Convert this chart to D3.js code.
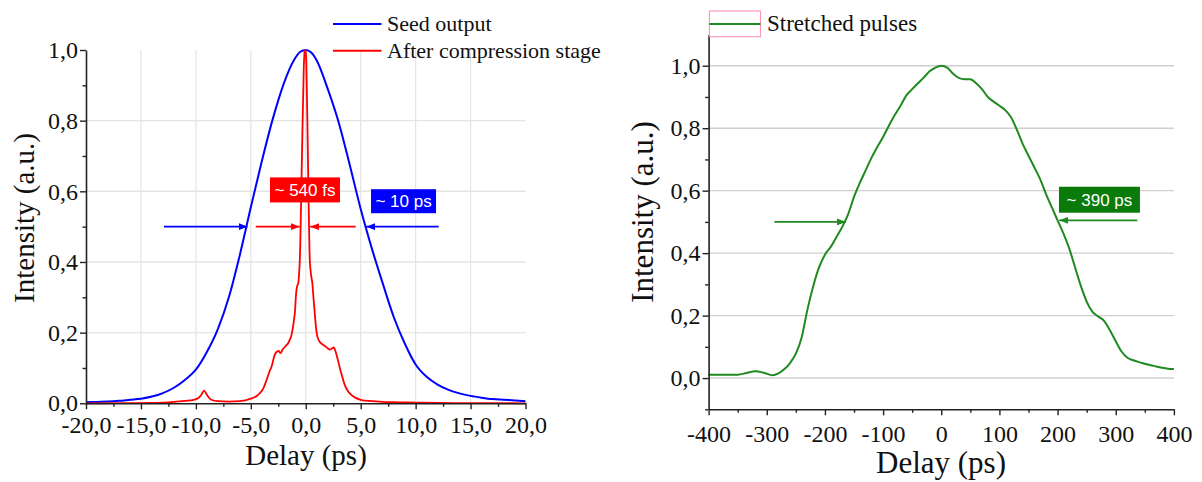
<!DOCTYPE html>
<html><head><meta charset="utf-8">
<script src="https://cdn.jsdelivr.net/npm/d3@7"></script>
<style>
body{margin:0;background:#fff}
svg text{font-family:"Liberation Serif","Times New Roman",serif;fill:#111}
</style>
</head><body><svg id="c" width="1202" height="482"></svg>
<script>
// ---------- data ----------
const seedX = [-20,-19,-18,-17,-16,-15,-14,-13,-12,-11,-10,-9,-8,-7,-6,-5,-4,-3,-2,-1,-0.5,0,0.5,1,2,3,4,5,6,7,8,9,10,11,12,13,14,15,16,17,18,19,20];
const seedY = [0.003,0.004,0.005,0.007,0.01,0.013,0.019,0.029,0.044,0.066,0.095,0.145,0.21,0.30,0.42,0.555,0.685,0.805,0.905,0.975,0.995,1.0,0.993,0.97,0.89,0.795,0.675,0.55,0.44,0.34,0.245,0.17,0.11,0.075,0.053,0.038,0.028,0.021,0.016,0.012,0.01,0.008,0.006];

const compX = [-20,-16,-14,-13,-12,-11,-10.2,-9.8,-9.5,-9.25,-9.0,-8.6,-8,-7,-6,-5,-4.5,-4.2,-3.9,-3.6,-3.3,-3.1,-2.85,-2.6,-2.45,-2.3,-2.1,-1.8,-1.6,-1.45,-1.3,-1.1,-0.98,-0.88,-0.8,-0.68,-0.6,-0.54,-0.35,-0.18,-0.1,-0.02,0.05,0.2,0.37,0.5,0.6,0.7,0.82,0.95,1.05,1.27,1.5,1.75,2.0,2.2,2.4,2.55,2.7,2.85,3.0,3.15,3.35,3.55,3.8,4.0,4.5,5,6,7,8,10,12,15,20];
const compY = [0.0,0.0005,0.001,0.002,0.004,0.007,0.01,0.014,0.024,0.036,0.024,0.01,0.006,0.005,0.006,0.013,0.02,0.028,0.04,0.063,0.09,0.105,0.135,0.147,0.148,0.142,0.152,0.163,0.17,0.18,0.193,0.23,0.26,0.31,0.33,0.34,0.37,0.405,0.69,0.95,0.995,1.0,0.97,0.69,0.405,0.36,0.34,0.30,0.255,0.21,0.19,0.174,0.167,0.162,0.156,0.152,0.156,0.158,0.148,0.132,0.113,0.094,0.072,0.052,0.036,0.028,0.016,0.01,0.006,0.004,0.003,0.002,0.001,0.0005,0.0];

const stretchX = [-400,-375,-350,-335,-320,-305,-290,-280,-270,-260,-250,-240,-230,-220,-210,-200,-190,-180,-170,-160,-150,-140,-130,-120,-110,-100,-90,-80,-70,-60,-50,-40,-30,-20,-10,0,10,20,30,40,50,60,70,80,90,100,110,120,130,140,150,160,170,180,190,200,210,220,230,240,250,260,270,280,290,300,310,320,330,340,350,360,370,380,390,400];
const stretchY = [0.011,0.011,0.011,0.016,0.022,0.017,0.009,0.015,0.028,0.048,0.078,0.13,0.22,0.295,0.355,0.395,0.42,0.452,0.485,0.525,0.58,0.625,0.665,0.705,0.74,0.772,0.808,0.842,0.872,0.905,0.925,0.944,0.962,0.982,0.994,1.0,0.994,0.975,0.961,0.957,0.957,0.944,0.925,0.90,0.885,0.872,0.858,0.835,0.795,0.75,0.712,0.675,0.637,0.59,0.547,0.505,0.463,0.415,0.355,0.295,0.245,0.212,0.197,0.183,0.153,0.118,0.085,0.065,0.057,0.051,0.046,0.041,0.037,0.033,0.030,0.029];

const leftXTicks = [-20,-15,-10,-5,0,5,10,15,20];
const leftXTickLabels = ["-20,0","-15,0","-10,0","-5,0","0,0","5,0","10,0","15,0","20,0"];
const leftXMinor = [-17.5,-12.5,-7.5,-2.5,2.5,7.5,12.5,17.5];
const leftYTicks = [0,0.2,0.4,0.6,0.8,1.0];
const leftYTickLabels = ["0,0","0,2","0,4","0,6","0,8","1,0"];
const leftYMinor = [0.1,0.3,0.5,0.7,0.9];
const leftXGrid = [-15,-10,-5,0,5,10,15];
const leftYGrid = [0.2,0.4,0.6,0.8];

const rightXTicks = [-400,-300,-200,-100,0,100,200,300,400];
const rightXTickLabels = ["-400","-300","-200","-100","0","100","200","300","400"];
const rightXMinor = [-350,-250,-150,-50,50,150,250,350];
const rightYTicks = [0,0.2,0.4,0.6,0.8,1.0];
const rightYTickLabels = ["0,0","0,2","0,4","0,6","0,8","1,0"];
const rightYMinor = [-0.1,0.1,0.3,0.5,0.7,0.9];
const rightYGrid = [0,0.2,0.4,0.6,0.8,1.0];

// annotation arrows [x1,x2,y] (arrow at x2)
const leftArrows = [
  {x1:-12.9,x2:-5.3,y:0.5,c:"blue"},
  {x1:12.1,x2:5.5,y:0.5,c:"blue"},
  {x1:-4.55,x2:-0.55,y:0.5,c:"red"},
  {x1:4.55,x2:0.4,y:0.5,c:"red"}
];
const rightArrows = [
  {x1:-287,x2:-164,y:0.5,c:"green"},
  {x1:337,x2:203,y:0.505,c:"green"}
];
const leftLabels = [
  {text:"~ 540 fs",x:-0.07,y:0.604,w:70,h:25,fill:"#ff0000"},
  {text:"~ 10 ps",x:8.9,y:0.572,w:65,h:24,fill:"#0000ff"}
];
const rightLabels = [
  {text:"~ 390 ps",x:272,y:0.571,w:81,h:26,fill:"#0a7a0a"}
];

// ---------- drawing ----------
const svg = d3.select("#c");
const colors = {blue:"#0000ff", red:"#ff0000", green:"#1f8a1f"};
const defs = svg.append("defs");
Object.entries(colors).forEach(([k,c])=>{
  defs.append("marker").attr("id","ah-"+k).attr("markerUnits","userSpaceOnUse")
    .attr("markerWidth",9).attr("markerHeight",7).attr("refX",9).attr("refY",3.5)
    .attr("orient","auto").append("path").attr("d","M0,0L9,3.5L0,7Z").attr("fill",c);
});

function drawPanel(o){
  const g = svg.append("g");
  (o.xGrid||[]).forEach(v=>{
    g.append("line").attr("x1",o.x(v)).attr("x2",o.x(v)).attr("y1",o.y.range()[0]).attr("y2",o.y.range()[1])
      .attr("stroke",o.gridColor).attr("stroke-width",1.2);
  });
  (o.yGrid||[]).forEach(v=>{
    g.append("line").attr("x1",o.x.range()[0]).attr("x2",o.x.range()[1]).attr("y1",o.y(v)).attr("y2",o.y(v))
      .attr("stroke",o.gridColor).attr("stroke-width",1.4);
  });
  o.series.forEach(s=>{
    const pts = s.xs.map((x,i)=>[x,s.ys[i]]);
    g.append("path").datum(pts)
      .attr("d",d3.line().x(d=>o.x(d[0])).y(d=>o.y(d[1])).curve(d3.curveMonotoneX))
      .attr("fill","none").attr("stroke",s.color).attr("stroke-width",s.width).attr("stroke-linejoin","round");
  });
  const y0 = o.y.range()[0];
  const x0 = o.x.range()[0];
  g.append("g").attr("transform",`translate(0,${y0})`)
    .call(d3.axisBottom(o.x).tickValues(o.xTicks).tickFormat((d,i)=>o.xLabels[i]).tickSize(6).tickSizeOuter(0).tickPadding(o.xPad));
  g.append("g").attr("transform",`translate(0,${y0})`)
    .call(d3.axisBottom(o.x).tickValues(o.xMinor).tickFormat("").tickSize(3.5)).select(".domain").remove();
  g.append("g").attr("transform",`translate(${x0},0)`)
    .call(d3.axisLeft(o.y).tickValues(o.yTicks).tickFormat((d,i)=>o.yLabels[i]).tickSize(6).tickSizeOuter(0).tickPadding(2));
  g.append("g").attr("transform",`translate(${x0},0)`)
    .call(d3.axisLeft(o.y).tickValues(o.yMinor).tickFormat("").tickSize(3.5)).select(".domain").remove();
  g.selectAll(".domain").attr("stroke","#222").attr("stroke-width",1.6);
  g.selectAll(".tick line").attr("stroke","#222").attr("stroke-width",1.4);
  g.selectAll(".tick text").attr("font-family","Liberation Serif, serif").attr("font-size",o.tickFont).attr("fill","#111");
  g.append("text").attr("x",o.xTitle[0]).attr("y",o.xTitle[1]).attr("text-anchor","middle")
    .attr("font-size",o.titleFont).text("Delay (ps)");
  g.append("text").attr("transform",`translate(${o.yTitle[0]},${o.yTitle[1]}) rotate(-90)`).attr("text-anchor","middle")
    .attr("font-size",o.titleFont).text("Intensity (a.u.)");
  o.arrows.forEach(a=>{
    g.append("line").attr("x1",o.x(a.x1)).attr("x2",o.x(a.x2)).attr("y1",o.y(a.y)).attr("y2",o.y(a.y))
      .attr("stroke",colors[a.c]).attr("stroke-width",1.6).attr("marker-end",`url(#ah-${a.c})`);
  });
  o.labels.forEach(l=>{
    const cx=o.x(l.x), cy=o.y(l.y);
    g.append("rect").attr("x",cx-l.w/2).attr("y",cy-l.h/2).attr("width",l.w).attr("height",l.h).attr("fill",l.fill);
    g.append("text").attr("x",cx).attr("y",cy+6).attr("text-anchor","middle")
      .style("font-family","'Liberation Sans', Arial, sans-serif").attr("font-size",17).style("fill","#fff").text(l.text);
  });
  return g;
}

const xL = d3.scaleLinear([-20,20],[86,525.5]);
const yL = d3.scaleLinear([0,1],[403.3,50]);
drawPanel({x:xL,y:yL,gridColor:"#e4e4e4",xGrid:leftXGrid,yGrid:leftYGrid,
  series:[{xs:seedX,ys:seedY,color:colors.blue,width:2},{xs:compX,ys:compY,color:colors.red,width:1.8}],
  xTicks:leftXTicks,xLabels:leftXTickLabels,xMinor:leftXMinor,yTicks:leftYTicks,yLabels:leftYTickLabels,yMinor:leftYMinor,
  xPad:6.7,tickFont:24,titleFont:29,xTitle:[306,465],yTitle:[34,218],arrows:leftArrows,labels:leftLabels});

const xR = d3.scaleLinear([-400,400],[708.6,1173.9]);
const yR = d3.scaleLinear([-0.1,1.1],[409.3,34.5]);
drawPanel({x:xR,y:yR,gridColor:"#cfcfcf",xGrid:[],yGrid:rightYGrid,
  series:[{xs:stretchX,ys:stretchY,color:colors.green,width:2}],
  xTicks:rightXTicks,xLabels:rightXTickLabels,xMinor:rightXMinor,yTicks:rightYTicks,yLabels:rightYTickLabels,yMinor:rightYMinor,
  xPad:9.7,tickFont:24,titleFont:31,xTitle:[941,473],yTitle:[653,212],arrows:rightArrows,labels:rightLabels});

const legL = svg.append("g");
[["Seed output",colors.blue,24,31],["After compression stage",colors.red,50.7,58]].forEach(([t,c,ly,ty])=>{
  legL.append("line").attr("x1",333).attr("x2",381.5).attr("y1",ly).attr("y2",ly).attr("stroke",c).attr("stroke-width",2);
  legL.append("text").attr("x",387).attr("y",ty).attr("font-size",22).text(t);
});
const legR = svg.append("g");
legR.append("rect").attr("x",709.4).attr("y",11).attr("width",51).attr("height",25.7).attr("fill","none").attr("stroke","#ff8aa6").attr("stroke-width",1);
legR.append("line").attr("x1",709.4).attr("x2",760.5).attr("y1",24).attr("y2",24).attr("stroke",colors.green).attr("stroke-width",2);
legR.append("text").attr("x",767).attr("y",31).attr("font-size",23).text("Stretched pulses");
</script></body></html>
